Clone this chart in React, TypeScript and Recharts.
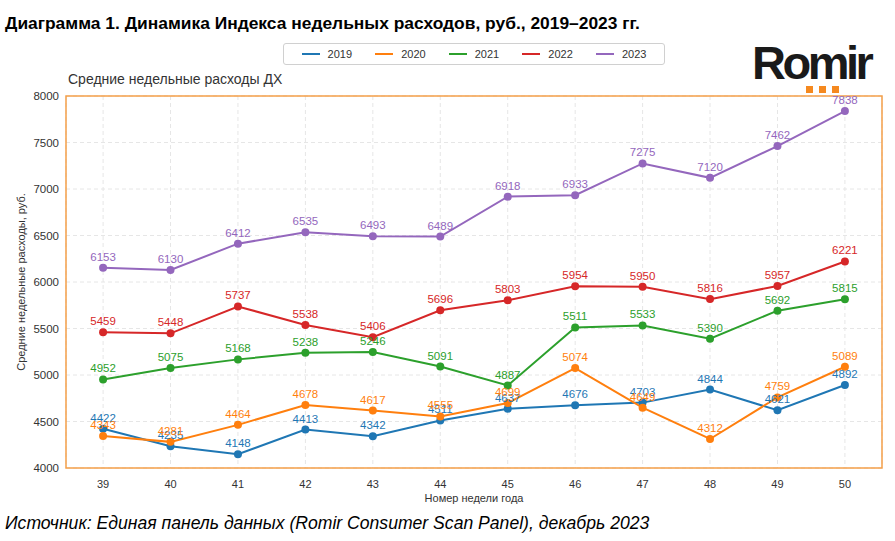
import React from 'react';
import { LineChart, Line, XAxis, YAxis, CartesianGrid, LabelList, Legend, ReferenceArea } from 'recharts';

const weeks = [39, 40, 41, 42, 43, 44, 45, 46, 47, 48, 49, 50];
const y2019 = [4422, 4235, 4148, 4413, 4342, 4511, 4637, 4676, 4703, 4844, 4621, 4892];
const y2020 = [4343, 4281, 4464, 4678, 4617, 4555, 4699, 5074, 4649, 4312, 4759, 5089];
const y2021 = [4952, 5075, 5168, 5238, 5246, 5091, 4887, 5511, 5533, 5390, 5692, 5815];
const y2022 = [5459, 5448, 5737, 5538, 5406, 5696, 5803, 5954, 5950, 5816, 5957, 6221];
const y2023 = [6153, 6130, 6412, 6535, 6493, 6489, 6918, 6933, 7275, 7120, 7462, 7838];
const yTicks = [4000, 4500, 5000, 5500, 6000, 6500, 7000, 7500, 8000];

const series = [
  { key: 'y2019', name: '2019', color: '#1f77b4', values: y2019 },
  { key: 'y2020', name: '2020', color: '#ff7f0e', values: y2020 },
  { key: 'y2021', name: '2021', color: '#2ca02c', values: y2021 },
  { key: 'y2022', name: '2022', color: '#d62728', values: y2022 },
  { key: 'y2023', name: '2023', color: '#9467bd', values: y2023 },
];

const data = weeks.map((w, i) => {
  const row: any = { week: w };
  series.forEach((s) => { row[s.key] = s.values[i]; });
  return row;
});

const FONT = '"Liberation Sans", Arial, sans-serif';

const LegendContent = () => (
  <div style={{
    border: '1px solid #d0d0d0', borderRadius: 3, height: 22, boxSizing: 'border-box',
    display: 'flex', alignItems: 'center', justifyContent: 'space-around', padding: '0 6px',
    fontFamily: FONT, fontSize: 11, color: '#333', background: '#fff',
  }}>
    {series.map((s) => (
      <div key={s.key} style={{ display: 'flex', alignItems: 'center' }}>
        <div style={{ width: 18, height: 2, background: s.color, marginRight: 8 }} />
        <span>{s.name}</span>
      </div>
    ))}
  </div>
);

export default function App() {
  return (
    <div style={{ position: 'absolute', left: 0, top: 0, width: 895, height: 541, background: '#fff', overflow: 'hidden' }}>
      <div style={{ position: 'absolute', left: 5, top: 13, fontFamily: FONT, fontWeight: 'bold', fontSize: 17.4, color: '#000', whiteSpace: 'nowrap' }}>
        Диаграмма 1. Динамика Индекса недельных расходов, руб., 2019–2023 гг.
      </div>
      <div style={{ position: 'absolute', left: 68, top: 71, fontFamily: FONT, fontSize: 14, color: '#333', whiteSpace: 'nowrap' }}>
        Средние недельные расходы ДХ
      </div>
      <div style={{ position: 'absolute', left: 752, top: 37, fontFamily: FONT, fontWeight: 'bold', fontSize: 47, letterSpacing: -3.5, color: '#1a1a1a', lineHeight: '52px' }}>
        Romir
      </div>
      <div style={{ position: 'absolute', left: 806, top: 86, display: 'flex', gap: 6 }}>
        <div style={{ width: 7, height: 7, background: '#f5891f' }} />
        <div style={{ width: 7, height: 7, background: '#f5891f' }} />
        <div style={{ width: 7, height: 7, background: '#f5891f' }} />
      </div>
      <div style={{ position: 'absolute', left: 0, top: 0 }}>
        <LineChart width={895} height={541} data={data} margin={{ top: 96, right: 13, bottom: 33, left: 0 }}>
          <CartesianGrid stroke="#e6e6e6" strokeDasharray="4 3" />
          <XAxis
            dataKey="week" type="number" domain={[38.45, 50.55]} ticks={weeks}
            tickLine={false} axisLine={false} height={40}
            tick={{ fontSize: 11, fill: '#333', fontFamily: FONT }} tickMargin={6}
            label={{ value: 'Номер недели года', position: 'insideBottom', offset: 6, fontSize: 11, fill: '#333', fontFamily: FONT }}
          />
          <YAxis
            domain={[4000, 8000]} ticks={yTicks} width={66} tickLine={false} axisLine={false}
            tick={{ fontSize: 11.5, fill: '#333', fontFamily: FONT }} tickMargin={1}
            label={{ value: 'Средние недельные расходы, руб.', angle: -90, position: 'insideLeft', offset: 21, style: { textAnchor: 'middle' }, fontSize: 11, fill: '#333', fontFamily: FONT }}
          />
          <ReferenceArea x1={38.45} x2={50.55} y1={4000} y2={8000} fill="none" fillOpacity={0} stroke="#f5a04a" strokeWidth={1.5} />
          <Legend
            verticalAlign="middle" layout="horizontal"
            wrapperStyle={{ position: 'absolute', top: 43, left: 283, width: 382, height: 22 }}
            content={() => <LegendContent />}
          />
          {series.map((s) => (
            <Line
              key={s.key} dataKey={s.key} name={s.name} stroke={s.color} strokeWidth={2}
              dot={{ r: 4, fill: s.color, stroke: s.color, strokeWidth: 0 }}
              activeDot={false} isAnimationActive={false}
            >
              <LabelList dataKey={s.key} position="top" offset={7} fill={s.color} fontSize={11.5} fontFamily={FONT} />
            </Line>
          ))}
        </LineChart>
      </div>
      <div style={{ position: 'absolute', left: 5, top: 513, fontFamily: FONT, fontStyle: 'italic', fontSize: 17.6, color: '#000', whiteSpace: 'nowrap' }}>
        Источник: Единая панель данных (Romir Consumer Scan Panel), декабрь 2023
      </div>
    </div>
  );
}
